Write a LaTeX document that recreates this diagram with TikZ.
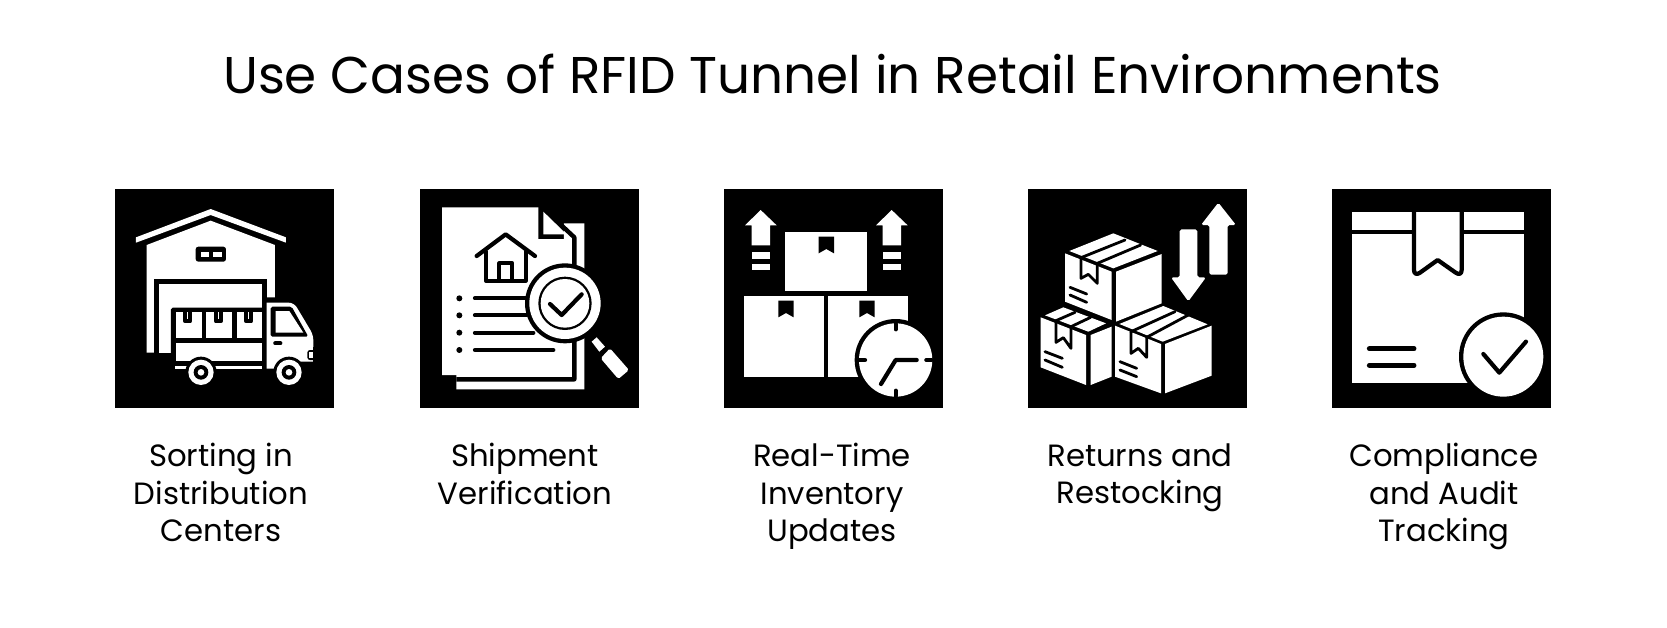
\documentclass[tikz,border=0pt]{standalone}
\usepackage{fontspec}
\setmainfont{Poppins}
\tikzset{
  crop/.style={x=0.0066667cm,y=-0.0066667cm},
  iconbox/.style={fill=black,draw=none,minimum size=4.38cm,inner sep=0pt},
  caption/.style={align=center,inner sep=0pt,anchor=north,font=\fontsize{17.5}{21.35}\selectfont},
  ink/.style={draw=black,line width=2.4pt,line cap=round,line join=round},
  thinink/.style={draw=black,line width=1.6pt,line cap=round,line join=round},
  paper/.style={fill=white,draw=none},
  tar/.style={fill=black,draw=none},
}
\begin{document}
\begin{tikzpicture}[x=0.02cm,y=-0.02cm]
\useasboundingbox (0,0) rectangle (1667,627);
\node[inner sep=0pt,font=\fontsize{29.4}{34}\selectfont] (title) at (832.5,73.5) {Use Cases of RFID Tunnel in Retail Environments};
% les cinq carres noirs
\node[iconbox] (box1) at (224.6,298.6) {};
\node[iconbox] (box2) at (529.2,298.6) {};
\node[iconbox] (box3) at (833.5,298.6) {};
\node[iconbox] (box4) at (1137.4,298.6) {};
\node[iconbox] (box5) at (1441.7,298.6) {};
\node[caption] (text1) at (221,443) {Sorting in\\Distribution\\Centers};
\node[caption] (text2) at (525,443) {Shipment\\Verification};
\node[caption] (text3) at (832,443) {Real-Time\\Inventory\\Updates};
\node[caption] (text4) at (1140,443) {Returns and\\Restocking};
\node[caption] (text5) at (1444,443) {Compliance\\and Audit\\Tracking};
% entrepot et camion
\begin{scope}[shift={(100,180)},crop]
\fill[paper] (108,172) -- (332,87) -- (558,172) -- (558,188) -- (332,105) -- (108,188) -- cycle;
\fill[paper] (140,195) -- (332,122) -- (525,195) -- (525,352) -- (500,352) -- (500,518) -- (140,518) -- cycle;
\fill[tar,rounded corners=1.5pt] (287,200) rectangle (378,245);
\fill[paper] (303,215) rectangle (328,232);
\fill[paper] (340,215) rectangle (365,232);
\fill[tar] (163,297) rectangle (500,540);
\fill[paper] (177,312) rectangle (487,518);
\fill[tar,rounded corners=1pt] (213,383) rectangle (500,555);
\fill[paper] (227,397) rectangle (305,475);
\fill[paper] (319,397) rectangle (396,475);
\fill[paper] (410,397) rectangle (487,475);
\fill[paper] (227,490) rectangle (487,543);
\fill[paper] (225,558) rectangle (487,566);
\foreach \s in {250,342,433}{
  \draw[ink,line cap=butt] (\s+6,397) -- (\s+6,424) -- (\s+20,424) -- (\s+20,397);
}
\fill[paper] (500,368) [rounded corners=3pt] -- (582,368) -- (640,465) [sharp corners] -- (640,545) -- (600,545) -- (600,566) -- (500,566) -- cycle;
\fill[tar,rounded corners=1pt] (512,380) -- (575,380) -- (625,470) -- (512,470) -- cycle;
\fill[paper] (527,393) -- (568,393) -- (610,458) -- (527,458) -- cycle;
\draw[ink] (526,490) -- (541,490);
\fill[tar,rounded corners=1.5pt] (622,510) rectangle (650,540);
\fill[paper] (628,517) rectangle (640,533);
\fill[tar] (640,500) rectangle (650,550);
\foreach \w in {303,567}{
  \fill[tar] (\w,577) circle (47);
  \fill[paper] (\w,577) circle (38);
  \fill[tar] (\w,577) circle (22);
  \fill[paper] (\w,577) circle (10);
}
\end{scope}
% document et loupe
\begin{scope}[shift={(410,180)},crop]
\fill[paper] (462,130) -- (523,130) -- (523,628) -- (139,628) -- (139,500) -- (462,500) -- cycle;
\draw[ink,line width=2.5pt,line cap=butt] (400,85) -- (493,172) -- (493,598) -- (139,598);
\fill[paper] (96,82) -- (385,82) -- (385,177) -- (480,177) -- (480,585) -- (96,585) -- cycle;
\fill[paper] (400,95) -- (470,163) -- (400,163) -- cycle;
\draw[ink] (200,228) -- (287,163) -- (375,228);
\draw[ink] (228,215) -- (228,302) -- (347,302) -- (347,215);
\draw[ink] (268,302) -- (268,250) -- (307,250) -- (307,302);
\foreach \y/\e in {355/350,406/350,458/370,510/430}{
  \fill[tar] (148,\y) circle (9);
  \draw[ink] (195,\y) -- (\e,\y);
}
\fill[tar] (465,370) circle (120);
\fill[paper] (465,370) circle (107);
\fill[tar] (465,370) circle (80);
\fill[paper] (465,370) circle (73);
\draw[ink] (420,372) -- (455,405) -- (515,343);
\fill[paper] (560,472) -- (585,500) -- (568,515) -- (545,485) -- cycle;
\fill[paper,rounded corners=1pt] (600,505) -- (657,570) -- (625,597) -- (572,535) -- cycle;
\end{scope}
% cartons et horloge
\begin{scope}[shift={(715,180)},crop]
\foreach \a in {137,530}{
  \fill[paper] (\a,90) -- (\a+48,136) -- (\a+28,136) -- (\a+28,196) -- (\a-27,196) -- (\a-27,136) -- (\a-47,136) -- cycle;
  \fill[paper] (\a-27,215) rectangle (\a+28,238);
  \fill[paper] (\a-27,253) rectangle (\a+28,271);
}
\fill[paper] (210,155) rectangle (457,333);
\fill[paper] (88,347) rectangle (327,592);
\fill[paper] (340,347) rectangle (578,592);
\foreach \t/\u in {311/170,190/362,433/362}{
  \fill[tar] (\t,\u) -- (\t+46,\u) -- (\t+46,\u+50) -- (\t+23,\u+37) -- (\t,\u+50) -- cycle;
}
\fill[tar] (542,540) circle (123);
\fill[paper] (542,540) circle (110);
\draw[ink] (542,432) -- (542,448);
\draw[ink] (542,632) -- (542,648);
\draw[ink] (434,540) -- (450,540);
\draw[ink] (634,540) -- (650,540);
\draw[ink] (605,540) -- (542,540) -- (498,612);
\end{scope}
% pile de cartons et fleches
\begin{scope}[shift={(1020,180)},crop]
\fill[paper,rounded corners=1pt] (595,68) -- (648,135) -- (623,135) -- (623,284) -- (568,284) -- (568,135) -- (543,135) -- cycle;
\fill[paper,rounded corners=1pt] (505,364) -- (558,292) -- (532,292) -- (532,148) -- (479,148) -- (479,292) -- (453,292) -- cycle;
% carton du haut
\fill[paper] (148,213) -- (280,160) -- (413,213) -- (280,265) -- cycle;
\fill[paper] (135,220) -- (275,275) -- (275,420) -- (135,365) -- cycle;
\fill[paper] (288,275) -- (425,222) -- (425,370) -- (288,425) -- cycle;
\draw[thinink] (183,233) -- (315,180);
\draw[thinink] (232,250) -- (362,195);
\draw[thinink] (183,233) -- (183,295) -- (205,283) -- (232,310) -- (232,250);
\draw[thinink] (150,322) -- (200,342);
\draw[thinink] (150,345) -- (200,367);
% carton de gauche
\fill[paper] (75,406) -- (130,382) -- (258,430) -- (205,455) -- cycle;
\fill[paper] (62,412) -- (198,465) -- (198,615) -- (62,562) -- cycle;
\fill[paper] (212,465) -- (275,440) -- (275,590) -- (212,615) -- cycle;
\draw[thinink] (108,422) -- (165,397);
\draw[thinink] (153,440) -- (212,412);
\draw[thinink] (108,422) -- (108,487) -- (130,473) -- (153,505) -- (153,440);
\draw[thinink] (75,515) -- (127,535);
\draw[thinink] (75,540) -- (127,562);
% carton de droite
\fill[paper] (298,432) -- (430,378) -- (563,433) -- (428,485) -- cycle;
\fill[paper] (285,437) -- (423,492) -- (423,640) -- (285,590) -- cycle;
\fill[paper] (435,492) -- (575,437) -- (575,587) -- (435,640) -- cycle;
\draw[thinink] (333,455) -- (465,395);
\draw[thinink] (380,472) -- (505,405);
\draw[thinink] (333,455) -- (333,520) -- (355,505) -- (380,532) -- (380,472);
\draw[thinink] (300,545) -- (350,565);
\draw[thinink] (300,570) -- (350,590);
\end{scope}
% carton valide
\begin{scope}[shift={(1325,180)},crop]
\fill[paper] (80,95) rectangle (596,610);
\draw[ink,line cap=butt] (80,157) -- (267,157);
\draw[ink,line cap=butt] (410,157) -- (596,157);
\draw[ink] (267,95) -- (267,270) .. controls (267,282) and (275,285) .. (285,278) -- (338,240) -- (392,278) .. controls (402,285) and (410,282) .. (410,270) -- (410,95);
\draw[ink,line width=2.8pt] (133,506) -- (267,506);
\draw[ink,line width=2.8pt] (133,556) -- (267,556);
\fill[tar] (535,530) circle (133);
\fill[paper] (535,530) circle (120);
\draw[ink] (475,522) -- (523,578) -- (603,485);
\end{scope}
\end{tikzpicture}
\end{document}
